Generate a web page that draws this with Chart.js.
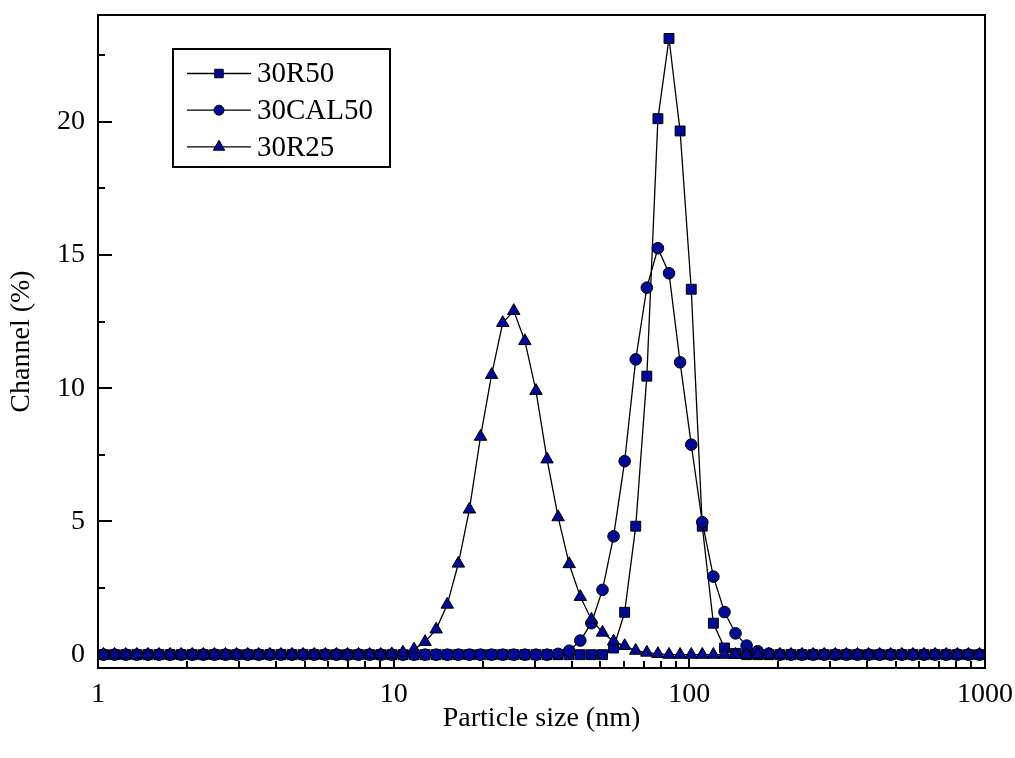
<!DOCTYPE html>
<html>
<head>
<meta charset="utf-8">
<script src="https://cdn.jsdelivr.net/npm/chart.js@4.4.1/dist/chart.umd.min.js"></script>
<style>
  html, body { margin: 0; padding: 0; background: #fff; }
  canvas { display: block; }
</style>
</head>
<body>
<canvas id="myChart" width="1015" height="758"></canvas>
<script>
// particle size classes (nm)
var sizes = [
    1.044, 1.138, 1.241, 1.353, 1.475, 1.608, 1.753, 1.911, 2.083, 2.271,
    2.476, 2.699, 2.943, 3.208, 3.497, 3.813, 4.157, 4.532, 4.940, 5.386,
    5.872, 6.401, 6.978, 7.608, 8.294, 9.042, 9.857, 10.75, 11.72, 12.77,
    13.92, 15.18, 16.55, 18.04, 19.67, 21.44, 23.38, 25.48, 27.78, 30.29,
    33.02, 36.00, 39.24, 42.78, 46.64, 50.85, 55.43, 60.43, 65.88, 71.82,
    78.30, 85.36, 93.06, 101.5, 110.6, 120.6, 131.5, 143.3, 156.2, 170.3,
    185.7, 202.4, 220.7, 240.6, 262.3, 285.9, 311.7, 339.8, 370.5, 403.9,
    440.3, 480.0, 523.3, 570.5, 622.0, 678.1, 739.2, 805.9, 878.6, 957.8
];
var r50 = [
    0, 0, 0, 0, 0, 0, 0, 0, 0, 0,
    0, 0, 0, 0, 0, 0, 0, 0, 0, 0,
    0, 0, 0, 0, 0, 0, 0, 0, 0, 0,
    0, 0, 0, 0, 0, 0, 0, 0, 0, 0,
    0, 0, 0, 0, 0, 0, 0.25, 1.59, 4.82, 10.45,
    20.11, 23.12, 19.65, 13.71, 4.82, 1.18, 0.25, 0.05, 0, 0,
    0, 0, 0, 0, 0, 0, 0, 0, 0, 0,
    0, 0, 0, 0, 0, 0, 0, 0, 0, 0
];
var cal50 = [
    0, 0, 0, 0, 0, 0, 0, 0, 0, 0,
    0, 0, 0, 0, 0, 0, 0, 0, 0, 0,
    0, 0, 0, 0, 0, 0, 0, 0, 0, 0,
    0, 0, 0, 0, 0, 0, 0, 0, 0, 0,
    0, 0.03, 0.15, 0.53, 1.18, 2.43, 4.44, 7.26, 11.08, 13.77,
    15.25, 14.31, 10.97, 7.88, 4.97, 2.93, 1.6, 0.8, 0.34, 0.13,
    0.04, 0, 0, 0, 0, 0, 0, 0, 0, 0,
    0, 0, 0, 0, 0, 0, 0, 0, 0, 0
];
var r25 = [
    0, 0, 0, 0, 0, 0, 0, 0, 0, 0,
    0, 0, 0, 0, 0, 0, 0, 0, 0, 0,
    0, 0, 0, 0, 0, 0, 0.02, 0.08, 0.2, 0.48,
    0.95, 1.88, 3.42, 5.45, 8.18, 10.5, 12.45, 12.9, 11.77, 9.9,
    7.33, 5.16, 3.4, 2.17, 1.32, 0.83, 0.5, 0.33, 0.15, 0.08,
    0.03, 0, 0, 0, 0, 0, 0, 0, 0, 0,
    0, 0, 0, 0, 0, 0, 0, 0, 0, 0,
    0, 0, 0, 0, 0, 0, 0, 0, 0, 0
];
var seriesNames = ['30R50', '30CAL50', '30R25'];
var seriesMarkers = ['rect', 'circle', 'triangle'];
var xTickLabels = ['1', '10', '100', '1000'];
var yTickLabels = ['0', '5', '10', '15', '20'];
var yTickVals = [0, 2.5, 5, 7.5, 10, 12.5, 15, 17.5, 20, 22.5];

var markerFill = '#000A96';
var markerRadius = [7.0, 5.8, 7.2];
var legendRadius = [6.0, 5.0, 6.6];

Chart.defaults.font.family = "'Liberation Serif', 'Times New Roman', serif";
Chart.defaults.color = '#000';

var xTickVals = [];
[1, 10, 100].forEach(function (d) {
    for (let m = 1; m < 10; m++) xTickVals.push(m * d);
});
xTickVals.push(1000);

function points(ys) {
    let out = [];
    for (let i = 0; i < sizes.length; i++) {
        out.push({ x: sizes[i], y: ys[i] });
    }
    return out;
}

function makeSet(k, ys, order) {
    return {
        label: seriesNames[k],
        data: points(ys),
        borderColor: '#000',
        borderWidth: 1.3,
        pointStyle: seriesMarkers[k],
        pointRadius: markerRadius[k],
        pointHoverRadius: markerRadius[k],
        pointBackgroundColor: markerFill,
        pointBorderColor: '#000',
        pointBorderWidth: 1,
        tension: 0,
        clip: false,
        order: order
    };
}

// inward ticks + frame
var frameTicks = {
    id: 'frameTicks',
    beforeDatasetsDraw: function (chart) {
        var ctx = chart.ctx, a = chart.chartArea;
        var xs = chart.scales.x, ys = chart.scales.y;
        ctx.save();
        ctx.strokeStyle = '#000';
        ctx.lineWidth = 2;
        ctx.beginPath();
        xs.ticks.forEach(function (t) {
            let px = Math.round(xs.getPixelForValue(t.value));
            let len = xTickLabels.indexOf(String(t.value)) >= 0 ? 13 : 7;
            ctx.moveTo(px, a.bottom);
            ctx.lineTo(px, a.bottom - len);
        });
        ys.ticks.forEach(function (t) {
            let py = Math.round(ys.getPixelForValue(t.value));
            let len = yTickLabels.indexOf(String(t.value)) >= 0 ? 14 : 7;
            ctx.moveTo(a.left, py);
            ctx.lineTo(a.left + len, py);
        });
        ctx.stroke();
        ctx.restore();
    },
    afterDatasetsDraw: function (chart) {
        var ctx = chart.ctx, a = chart.chartArea;
        ctx.save();
        ctx.strokeStyle = '#000';
        ctx.lineWidth = 2;
        ctx.strokeRect(a.left, a.top, a.right - a.left, a.bottom - a.top);
        ctx.restore();
    }
};

// boxed legend, line with marker in the middle
var boxLegend = {
    id: 'boxLegend',
    afterDraw: function (chart) {
        var ctx = chart.ctx;
        var bx = 173, by = 49, bw = 217, bh = 118;
        ctx.save();
        ctx.strokeStyle = '#000';
        ctx.lineWidth = 2;
        ctx.strokeRect(bx, by, bw, bh);
        ctx.font = "29px 'Liberation Serif', 'Times New Roman', serif";
        ctx.textBaseline = 'middle';
        ctx.textAlign = 'left';
        for (let k = 0; k < seriesNames.length; k++) {
            let y = 73.5 + k * 36.7;
            ctx.beginPath();
            ctx.lineWidth = 1.3;
            ctx.strokeStyle = '#000';
            ctx.moveTo(187, y);
            ctx.lineTo(251, y);
            ctx.stroke();
            ctx.fillStyle = markerFill;
            ctx.strokeStyle = '#000';
            ctx.lineWidth = 1;
            Chart.helpers.drawPoint(ctx, {
                pointStyle: seriesMarkers[k],
                radius: legendRadius[k],
                rotation: 0,
                borderWidth: 1
            }, 219, y);
            ctx.fillStyle = '#000';
            ctx.fillText(seriesNames[k], 257, y + 1);
        }
        ctx.restore();
    }
};

var ctx = document.getElementById('myChart');
var myChart = new Chart(ctx, {
    type: 'line',
    data: {
        datasets: [
            makeSet(0, r50, 3),
            makeSet(1, cal50, 2),
            makeSet(2, r25, 1)
        ]
    },
    options: {
        responsive: false,
        animation: false,
        events: [],
        layout: { padding: { top: 15, right: 30, left: 0, bottom: 0 } },
        plugins: {
            legend: { display: false },
            tooltip: { enabled: false }
        },
        scales: {
            x: {
                type: 'logarithmic',
                position: 'bottom',
                min: 1,
                max: 1000,
                afterBuildTicks: function (scale) {
                    scale.ticks = xTickVals.map(function (v) { return { value: v }; });
                },
                afterFit: function (scale) {
                    scale.height = 90;
                    scale.paddingLeft = 0;
                    scale.paddingRight = 0;
                },
                grid: { display: false, drawTicks: false },
                border: { display: false },
                ticks: {
                    autoSkip: false,
                    maxRotation: 0,
                    padding: 10,
                    font: { size: 28 },
                    color: '#000',
                    callback: function (value) {
                        let s = String(value);
                        return xTickLabels.indexOf(s) >= 0 ? s : '';
                    }
                },
                title: {
                    display: true,
                    text: 'Particle size (nm)',
                    font: { size: 28 },
                    color: '#000',
                    padding: { top: 0, bottom: 23 }
                }
            },
            y: {
                type: 'linear',
                min: -0.5,
                max: 24,
                afterBuildTicks: function (scale) {
                    scale.ticks = yTickVals.map(function (v) { return { value: v }; });
                },
                afterFit: function (scale) {
                    scale.width = 98;
                    scale.paddingTop = 0;
                    scale.paddingBottom = 0;
                },
                grid: { display: false, drawTicks: false },
                border: { display: false },
                ticks: {
                    padding: 13,
                    font: { size: 28 },
                    color: '#000',
                    callback: function (value) {
                        let s = String(value);
                        return yTickLabels.indexOf(s) >= 0 ? s : '';
                    }
                },
                title: {
                    display: true,
                    text: 'Channel (%)',
                    font: { size: 28 },
                    color: '#000',
                    padding: { top: 5, bottom: 0 }
                }
            }
        }
    },
    plugins: [frameTicks, boxLegend]
});
</script>
</body>
</html>
